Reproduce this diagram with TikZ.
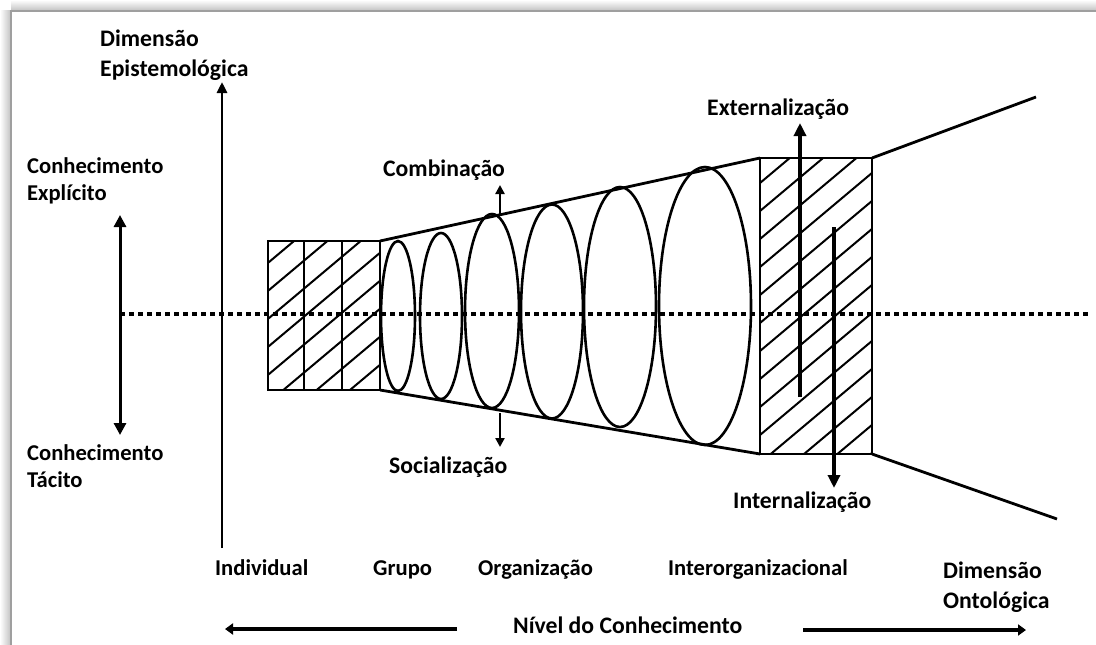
\documentclass[tikz,border=0pt]{standalone}
\usepackage{fontspec}
\setmainfont{Carlito}
\usetikzlibrary{arrows.meta}
\begin{document}
\begin{tikzpicture}[x=1pt,y=-1pt,
  lbl/.style={font=\bfseries\fontsize{22.6}{27}\selectfont, inner sep=0pt, anchor=base west},
  biglbl/.style={font=\bfseries\fontsize{23.7}{28}\selectfont, inner sep=0pt, anchor=base west},
  outline/.style={line width=2.8pt, line join=miter},
  hatch/.style={line width=2pt},
  ring/.style={line width=2.6pt},
  axisarrow/.style={line width=2.8pt, -{Triangle[length=11pt,width=10pt]}},
  botharrow/.style={line width=3pt, {Triangle[length=12pt,width=12pt]}-{Triangle[length=12pt,width=12pt]}},
  modearrow/.style={line width=3.4pt, -{Triangle[length=13pt,width=12pt]}},
  smallarrow/.style={line width=2.8pt, -{Triangle[length=9pt,width=9pt]}},
  levelarrow/.style={line width=4.5pt, -{Triangle[length=8pt,width=11pt]}},
  dotted line/.style={line width=3.5pt, dash pattern=on 4.5pt off 4.5pt}]
\useasboundingbox (0,0) rectangle (1096,645);
\fill[white] (0,0) rectangle (1096,645);
% frame with shadow
\shade[top color=white, bottom color=gray!45] (11,0) rectangle (1096,10);
\shade[left color=white, right color=gray!45] (0,10) rectangle (10,645);
\draw[line width=2pt, gray!75] (11,645) -- (11,11) -- (1096,11);

% coordinates
\coordinate (bTL) at (268,241); \coordinate (bBR) at (380,390);
\coordinate (tTL) at (380,241); \coordinate (tBL) at (380,390);
\coordinate (BTL) at (760,158); \coordinate (BBL) at (760,454);
\coordinate (BTR) at (872,158); \coordinate (BBR) at (872,454);
\coordinate (fT) at (1036,97); \coordinate (fB) at (1057,519);

% hatching of small boxes
\begin{scope}
\clip (bTL) rectangle (bBR);
\foreach \k in {0,...,14} {\draw[hatch] (250,194+28*\k) -- ++(150,-126);}
\end{scope}
% hatching of big box
\begin{scope}
\clip (BTL) rectangle (BBR);
\foreach \k in {-1,...,15} {\draw[hatch] (750,163.4+28*\k) -- ++(140,-117.6);}
\end{scope}

% dotted centre line
\coordinate (dL) at (120,314); \coordinate (dR) at (1090,314);
\draw[dotted line] (dL) -- (dR);

% small boxes
\draw[outline] (bTL) rectangle (bBR);
\draw[outline] (304,241) -- (304,390);
\draw[outline] (342,241) -- (342,390);
% trapezoid
\draw[outline] (tTL) -- (BTL);
\draw[outline] (tBL) -- (BBL);
% big box
\draw[outline] (BTL) rectangle (BBR);
\draw[outline] (BTR) -- (fT);
\draw[outline] (BBR) -- (fB);

% ellipses
\draw[ring] (398,316) ellipse [x radius=17pt, y radius=75pt];
\draw[ring] (441,316) ellipse [x radius=21pt, y radius=83pt];
\draw[ring] (492,311) ellipse [x radius=27pt, y radius=97pt];
\draw[ring] (552,311.5) ellipse [x radius=31pt, y radius=107pt];
\draw[ring] (620,307) ellipse [x radius=36pt, y radius=120pt];
\draw[ring] (705,306) ellipse [x radius=46pt, y radius=139pt];

% axes
\coordinate (vB) at (222,548); \coordinate (vT) at (222,82);
\draw[axisarrow] (vB) -- (vT);
\coordinate (dT) at (120,215); \coordinate (dB) at (120,435);
\draw[botharrow] (dB) -- (dT);

% mode arrows
\coordinate (cS) at (500,215); \coordinate (cE) at (500,185);
\draw[smallarrow] (cS) -- (cE);
\coordinate (sS) at (500,413); \coordinate (sE) at (500,447);
\draw[smallarrow] (sS) -- (sE);
\coordinate (eS) at (800,397); \coordinate (eE) at (800,123);
\draw[modearrow] (eS) -- (eE);
\coordinate (iS) at (834,227); \coordinate (iE) at (834,488);
\draw[modearrow] (iS) -- (iE);

% level arrows
\coordinate (lS) at (457,629); \coordinate (lE) at (225,629);
\draw[levelarrow] (lS) -- (lE);
\coordinate (rS) at (803,630); \coordinate (rE) at (1026,630);
\draw[levelarrow] (rS) -- (rE);

% labels
\node[biglbl] (de1) at (100,46) {Dimensão};
\node[biglbl] (de2) at (100,76) {Epistemológica};
\node[lbl] (ce1) at (27,173) {Conhecimento};
\node[lbl] (ce2) at (27,200) {Explícito};
\node[lbl] (ct1) at (27,460) {Conhecimento};
\node[lbl] (ct2) at (27,487) {Tácito};
\node[biglbl] (comb) at (383,176) {Combinação};
\node[biglbl] (soc) at (389,473) {Socialização};
\node[biglbl] (ext) at (707,115) {Externalização};
\node[biglbl] (int) at (733,508) {Internalização};
\node[lbl] (ind) at (215,575) {Individual};
\node[lbl] (gru) at (373,575) {Grupo};
\node[lbl] (org) at (478,575) {Organização};
\node[lbl] (inter) at (668,575) {Interorganizacional};
\node[biglbl] (do1) at (943,578) {Dimensão};
\node[biglbl] (do2) at (943,608) {Ontológica};
\node[biglbl] (niv) at (513,633) {Nível do Conhecimento};
\end{tikzpicture}
\end{document}
